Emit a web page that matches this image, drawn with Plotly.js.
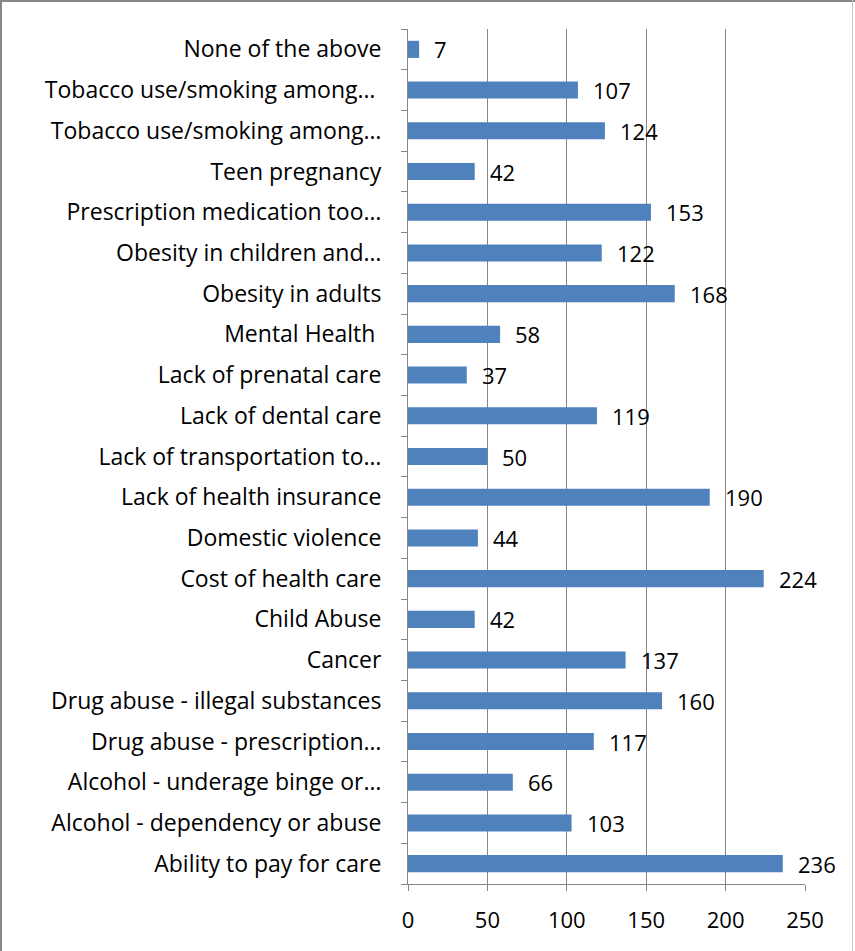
<!DOCTYPE html>
<html>
<head>
<meta charset="utf-8">
<script src="https://cdn.plot.ly/plotly-3.0.1.min.js"></script>
<style>
  html, body { margin: 0; padding: 0; background: #fff; }
  #wrap { position: relative; width: 855px; height: 951px; }
  #chart { position: absolute; left: 0; top: 0; width: 855px; height: 951px; }
  .bl { position: absolute; left: 0; top: 0; width: 2px; height: 951px; background: #878787; }
  .bt { position: absolute; left: 0; top: 0; width: 855px; height: 2px; background: #878787; }
  .br { position: absolute; left: 852px; top: 0; width: 1px; height: 951px; background: #c8c8c8; }
</style>
</head>
<body>
<div id="wrap">
  <div id="chart"></div>
  <div class="bl"></div><div class="bt"></div><div class="br"></div>
</div>
<script>
// Categories listed bottom to top
const categories = [
  "Ability to pay for care",
  "Alcohol - dependency or abuse",
  "Alcohol - underage binge or…",
  "Drug abuse - prescription…",
  "Drug abuse - illegal substances",
  "Cancer",
  "Child Abuse",
  "Cost of health care",
  "Domestic violence",
  "Lack of health insurance",
  "Lack of transportation to…",
  "Lack of dental care",
  "Lack of prenatal care",
  "Mental Health ",
  "Obesity in adults",
  "Obesity in children and…",
  "Prescription medication too…",
  "Teen pregnancy",
  "Tobacco use/smoking among…",
  "Tobacco use/smoking among… ",
  "None of the above"
];
const values = [236, 103, 66, 117, 160, 137, 42, 224, 44, 190, 50, 119, 37, 58, 168, 122, 153, 42, 124, 107, 7];
const xTicks = [0, 50, 100, 150, 200, 250];

const FONT = "'Open Sans', sans-serif";
const FS_CAT = 23;
const FS_NUM = 22;

const trace = {
  type: "bar",
  orientation: "h",
  x: values,
  y: categories,
  marker: { color: "#4F81BD", line: { width: 0 } },
  hoverinfo: "none"
};

const annotations = values.map((v, i) => ({
  x: v, y: categories[i], xref: "x", yref: "y",
  text: String(v), showarrow: false,
  xanchor: "left", yanchor: "middle",
  xshift: 13, yshift: 0,
  font: { family: FONT, size: FS_NUM, color: "#000" }
}));

const layout = {
  width: 855, height: 951,
  margin: { l: 408, r: 50, t: 29, b: 67, pad: 0 },
  paper_bgcolor: "#fff", plot_bgcolor: "#fff",
  showlegend: false,
  bargap: 0.58,
  font: { family: FONT, size: FS_CAT, color: "#000" },
  xaxis: {
    range: [0, 250],
    tickvals: xTicks,
    ticktext: xTicks.map(String),
    showgrid: true, gridcolor: "#868686", gridwidth: 1,
    zeroline: false,
    showline: true, linecolor: "#868686", linewidth: 1,
    ticks: "outside", ticklen: 6, tickcolor: "#868686",
    ticklabelstandoff: 11,
    tickfont: { family: FONT, size: FS_NUM, color: "#000" },
    fixedrange: true
  },
  yaxis: {
    type: "category",
    categoryorder: "array",
    categoryarray: categories,
    range: [-0.5, categories.length - 0.5],
    showgrid: false, zeroline: false,
    showline: true, linecolor: "#868686", linewidth: 1,
    ticks: "outside", ticklen: 6, tickcolor: "#868686",
    tickson: "boundaries",
    ticklabelstandoff: 21,
    tickfont: { family: FONT, size: FS_CAT, color: "#000" },
    fixedrange: true
  },
  annotations: annotations
};

Plotly.newPlot("chart", [trace], layout, { staticPlot: true, displayModeBar: false });
</script>
</body>
</html>
